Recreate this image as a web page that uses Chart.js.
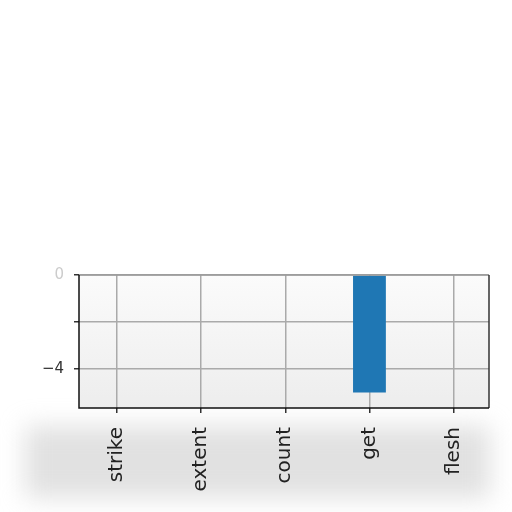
<!DOCTYPE html>
<html><head><meta charset="utf-8">
<script src="https://cdn.jsdelivr.net/npm/chart.js@4"></script>
<style>html,body{margin:0;padding:0;background:#fff}#c{display:block}</style>
</head><body>
<canvas id="c" width="512" height="512"></canvas>
<script>
const categories = ["strike","extent","count","get","flesh"];
const values = [0, 0, 0, -5, 0];
const yTicks = [0, -2, -4];
const yTickLabels = ["0", "", "\u22124"];

const bgPlugin = {
  id: 'bg',
  beforeDraw(chart) {
    const {ctx, chartArea: a} = chart;
    ctx.save();
    ctx.filter = 'blur(12px)';
    ctx.fillStyle = 'rgba(195,195,195,0.5)';
    ctx.fillRect(25, a.bottom + 18, 465, 72);
    ctx.filter = 'none';
    const g = ctx.createLinearGradient(0, a.top, 0, a.bottom);
    g.addColorStop(0, '#fbfbfb');
    g.addColorStop(1, '#ededed');
    ctx.fillStyle = g;
    ctx.fillRect(a.left, a.top, a.right - a.left, a.bottom - a.top);
    ctx.restore();
  },
  afterDraw(chart) {
    const {ctx, chartArea: a} = chart;
    ctx.save();
    ctx.strokeStyle = '#999';
    ctx.lineWidth = 1.5;
    ctx.beginPath();
    ctx.moveTo(a.left, a.top); ctx.lineTo(a.right, a.top);
    ctx.stroke();
    ctx.strokeStyle = '#333';
    ctx.beginPath();
    ctx.moveTo(a.right, a.top); ctx.lineTo(a.right, a.bottom);
    ctx.stroke();
    ctx.strokeStyle = '#111';
    ctx.beginPath();
    ctx.moveTo(a.left, a.top); ctx.lineTo(a.left, a.bottom); ctx.lineTo(a.right, a.bottom);
    ctx.stroke();
    ctx.restore();
  }
};

new Chart(document.getElementById('c'), {
  type: 'bar',
  data: {
    datasets: [{
      data: values.map((v, i) => ({ x: i, y: v })),
      backgroundColor: '#1f77b4',
      borderWidth: 0,
      barPercentage: 0.39,
      categoryPercentage: 1.0
    }]
  },
  options: {
    responsive: false,
    animation: false,
    devicePixelRatio: 1,
    layout: { padding: { top: 275, left: 0, right: 23, bottom: 0 } },
    plugins: { legend: { display: false }, tooltip: { enabled: false } },
    scales: {
      x: {
        type: 'linear',
        z: 1,
        min: -0.45,
        max: 4.42,
        offset: false,
        afterBuildTicks(s) { s.ticks = categories.map((c, i) => ({ value: i })); },
        grid: { offset: false, color: '#aaa', lineWidth: 1.5, drawTicks: true, tickLength: 5, tickColor: '#333' },
        border: { display: false },
        ticks: { maxRotation: 90, minRotation: 90, color: '#222', padding: 14,
                 font: { family: 'DejaVu Sans', size: 20 },
                 callback: (v) => categories[v] !== undefined ? categories[v] : '' },
        afterFit(s) { s.height = 104; }
      },
      y: {
        z: 1,
        min: -5.66,
        max: 0,
        afterBuildTicks(s) { s.ticks = yTicks.map(v => ({ value: v })); },
        grid: { color: '#aaa', lineWidth: 1.5, drawTicks: true, tickLength: 5, tickColor: '#333' },
        border: { display: false },
        ticks: {
          color: (c) => c.tick && c.tick.value === 0 ? '#ccc' : '#333',
          padding: 10,
          font: { family: 'DejaVu Sans', size: 15 },
          callback: (v) => { const i = yTicks.indexOf(v); return i >= 0 ? yTickLabels[i] : ''; }
        },
        afterFit(s) { s.width = 79; }
      }
    }
  },
  plugins: [bgPlugin]
});
</script>
</body></html>
